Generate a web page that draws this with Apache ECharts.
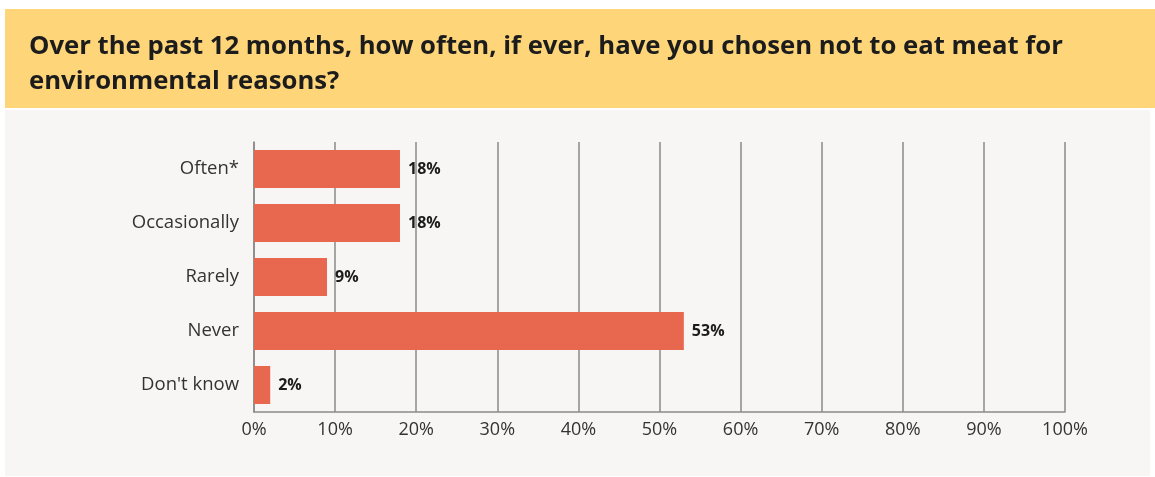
<!DOCTYPE html>
<html>
<head>
<meta charset="utf-8">
<script src="https://cdn.jsdelivr.net/npm/echarts@6/dist/echarts.min.js"></script>
<style>
  html, body { margin: 0; padding: 0; background: #ffffff; }
  #chart { width: 1155px; height: 477px; }
</style>
</head>
<body>
<div id="chart"></div>
<script>
  // categories top to bottom
  var categories = ['Often*', 'Occasionally', 'Rarely', 'Never', "Don't know"];
  var values = [18, 18, 9, 53, 2];
  var titleText = 'Over the past 12 months, how often, if ever, have you chosen not to eat meat for\nenvironmental reasons?';

  var chart = echarts.init(document.getElementById('chart'));

  var option = {
    animation: false,
    textStyle: { fontFamily: 'Open Sans' },
    graphic: [
      { type: 'rect', z: -10, shape: { x: 5, y: 9, width: 1150, height: 99 }, style: { fill: '#FED679' } },
      { type: 'rect', z: -10, shape: { x: 5, y: 110, width: 1145, height: 366 }, style: { fill: '#F7F6F4' } }
    ],
    title: {
      text: titleText,
      left: 24,
      top: 24,
      textStyle: {
        fontFamily: 'Open Sans',
        fontSize: 25.7,
        fontWeight: 'bold',
        color: '#1c1c1c',
        lineHeight: 35
      }
    },
    grid: {
      left: 254,
      right: 90,
      top: 142,
      bottom: 65,
      containLabel: false
    },
    xAxis: {
      type: 'value',
      min: 0,
      max: 100,
      interval: 10,
      axisLine: { show: true, lineStyle: { color: '#8a8a8a', width: 1.5 } },
      axisTick: { show: false },
      splitLine: { show: true, lineStyle: { color: '#8a8a8a', width: 1.5 } },
      axisLabel: {
        formatter: '{value}%',
        fontSize: 18,
        color: '#333333',
        margin: 9
      }
    },
    yAxis: {
      type: 'category',
      inverse: true,
      data: categories,
      axisLine: { show: true, lineStyle: { color: '#8a8a8a', width: 1.5 } },
      axisTick: { show: false },
      axisLabel: {
        fontSize: 18.5,
        color: '#333333',
        margin: 15
      }
    },
    series: [
      {
        type: 'bar',
        data: values,
        barWidth: 38,
        itemStyle: { color: '#E8674F' },
        label: {
          show: true,
          position: 'right',
          distance: 8,
          formatter: '{c}%',
          fontSize: 16,
          fontWeight: 'bold',
          color: '#1c1c1c'
        }
      }
    ]
  };

  chart.setOption(option);
</script>
</body>
</html>
